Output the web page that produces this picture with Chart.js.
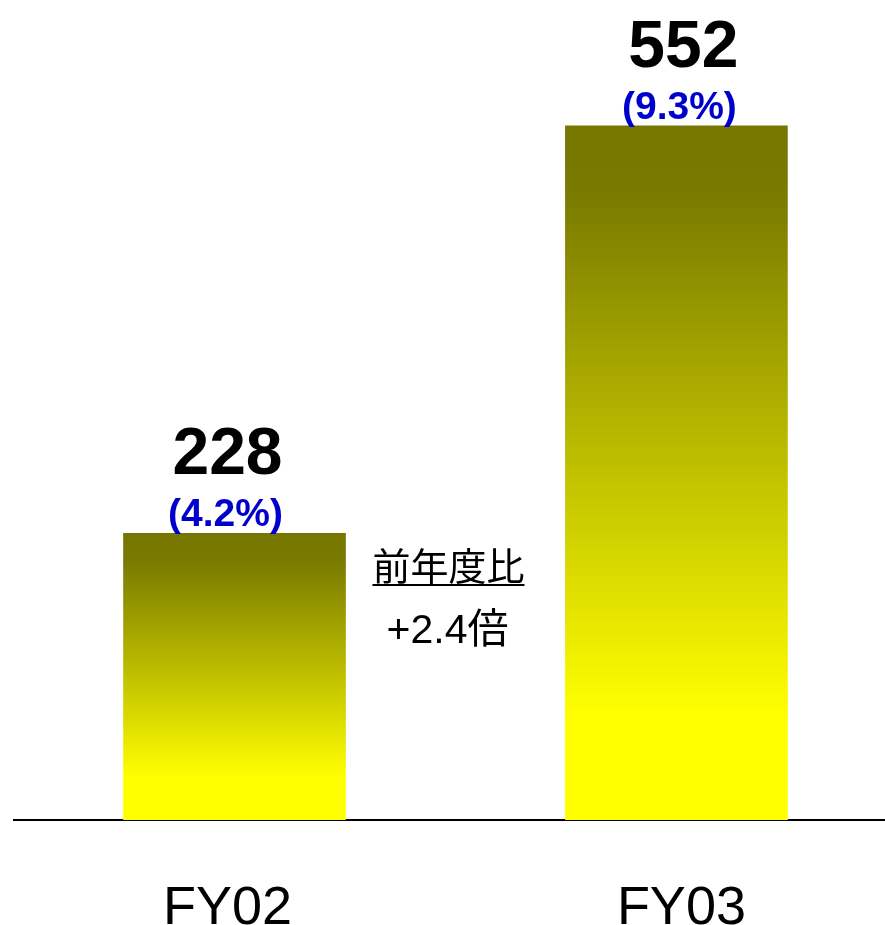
<!DOCTYPE html>
<html>
<head>
<meta charset="utf-8">
<script src="https://cdn.jsdelivr.net/npm/chart.js"></script>
<style>
  html, body { margin: 0; padding: 0; background: #fff; }
  #wrap { width: 885px; height: 925px; position: relative; }
</style>
</head>
<body>
<div id="wrap"><canvas id="myChart"></canvas></div>
<script>
// chart data
const categories = ['FY02', 'FY03'];
const values = [228, 552];
const shares = ['(4.2%)', '(9.3%)'];
const noteTitle = '前年度比';
const noteValue = '+2.4倍';

const ctx = document.getElementById('myChart');

// bar gradient: olive at the top, yellow near the bottom
function barFill(context) {
  const chart = context.chart;
  const area = chart.chartArea;
  if (!area) return '#cccc00';
  const v = context.raw ? context.raw.y : 0;
  const top = chart.scales.y.getPixelForValue(v);
  const bottom = chart.scales.y.getPixelForValue(0);
  const g = chart.ctx.createLinearGradient(0, top, 0, bottom);
  g.addColorStop(0, '#767600');
  g.addColorStop(0.1, '#7a7a00');
  g.addColorStop(0.85, '#ffff00');
  g.addColorStop(1, '#ffff00');
  return g;
}

// value labels above bars, category names under the axis, note between bars
const labelPlugin = {
  id: 'labels',
  afterDatasetsDraw(chart) {
    const c = chart.ctx;
    const meta = chart.getDatasetMeta(0);
    const xs = chart.scales.x;
    c.save();
    c.textAlign = 'center';
    c.textBaseline = 'alphabetic';
    meta.data.forEach((bar, i) => {
      c.fillStyle = '#000';
      c.font = 'bold 66px "Liberation Sans", Arial, sans-serif';
      c.fillText(String(values[i]), bar.x - 7 + i * 14, bar.y - 59);
      c.fillStyle = '#0000cc';
      c.font = 'bold 39px "Liberation Sans", Arial, sans-serif';
      c.fillText(shares[i], bar.x - 9 + i * 12, bar.y - 7);
    });

    // category labels
    c.fillStyle = '#000';
    c.font = '54px "Liberation Sans", Arial, sans-serif';
    categories.forEach((name, i) => {
      c.fillText(name, xs.getPixelForValue(i) - 7 + i * 12, 924);
    });

    // note between the bars
    const mid = (meta.data[0].x + meta.data[1].x) / 2 - 7;
    c.font = '38px "Noto Sans CJK JP", sans-serif';
    c.fillText(noteTitle, mid, 580);
    const w = c.measureText(noteTitle).width;
    c.fillRect(mid - w / 2, 584, w, 2);
    c.font = '41px "Liberation Sans", "Noto Sans CJK JP", sans-serif';
    c.fillText(noteValue, mid - 1, 643);
    c.restore();
  }
};

new Chart(ctx, {
  type: 'bar',
  data: {
    datasets: [{
      data: values.map((v, i) => ({ x: i, y: v })),
      backgroundColor: barFill,
      borderWidth: 0,
      barThickness: 222
    }]
  },
  options: {
    responsive: true,
    maintainAspectRatio: false,
    animation: false,
    layout: { padding: { left: 14, right: 0, top: 0, bottom: 105 } },
    plugins: {
      legend: { display: false },
      tooltip: { enabled: false }
    },
    scales: {
      x: {
        type: 'linear',
        min: -0.499,
        max: 1.472,
        offset: false,
        grid: { display: false, drawTicks: false },
        border: { display: true, color: '#000', width: 2 },
        ticks: { display: false }
      },
      y: {
        min: 0,
        max: 652,
        display: false,
        grid: { display: false }
      }
    }
  },
  plugins: [labelPlugin]
});
</script>
</body>
</html>
